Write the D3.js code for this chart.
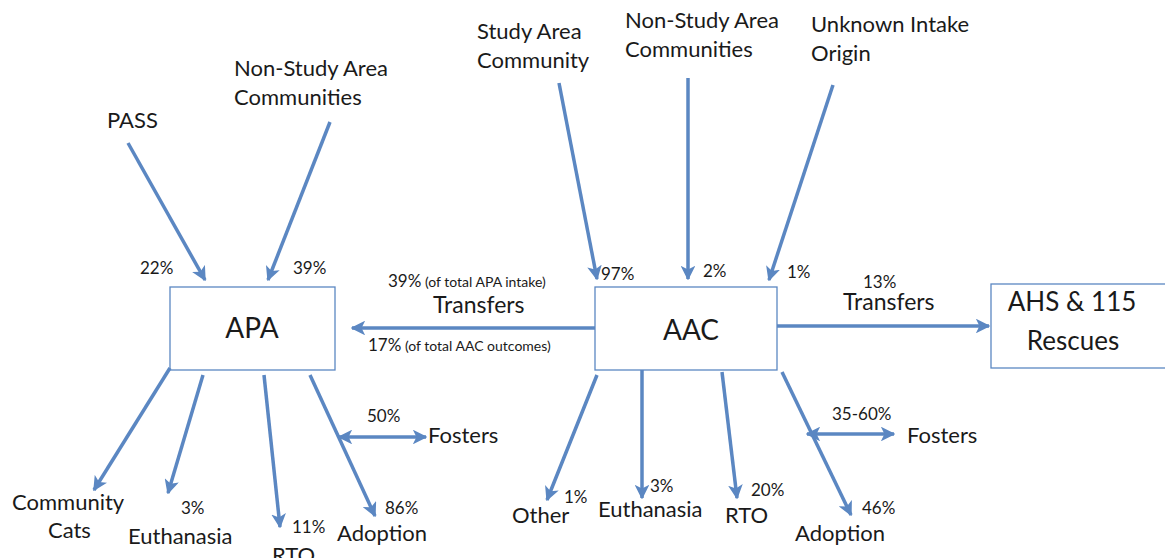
<!DOCTYPE html>
<html>
<head>
<meta charset="utf-8">
<script src="https://cdn.jsdelivr.net/npm/d3@7"></script>
<style>
  body { margin: 0; background: #fff; }
  svg text { font-family: Lato, "Open Sans", sans-serif; fill: #1a1a1a; }
</style>
</head>
<body>
<svg id="chart"></svg>
<script>
// ---- data ----
var boxNames = ["APA", "AAC", "AHS & 115\nRescues"]

var intakeNames = ["PASS", "Non-Study Area\nCommunities", "Study Area\nCommunity", "Non-Study Area\nCommunities", "Unknown Intake\nOrigin"]
var intakeTarget = ["APA", "APA", "AAC", "AAC", "AAC"]
var intakePct = ["22%", "39%", "97%", "2%", "1%"]

var outcomeNames = ["Community\nCats", "Euthanasia", "RTO", "Adoption", "Other", "Euthanasia", "RTO", "Adoption"]
var outcomeSource = ["APA", "APA", "APA", "APA", "AAC", "AAC", "AAC", "AAC"]
var outcomePct = ["", "3%", "11%", "86%", "1%", "3%", "20%", "46%"]

var fosterSource = ["APA", "AAC"]
var fosterPct = ["50%", "35-60%"]

var transferFrom = ["AAC", "AAC"]
var transferTo = ["APA", "AHS & 115\nRescues"]
var transferPctTop = ["39% (of total APA intake)", "13%"]
var transferPctBottom = ["17% (of total AAC outcomes)", ""]

// ---- layout (pixel positions of the drawing) ----
var width = 1165, height = 558
var blue = "#5b87c2"
var nameSize = 22, pctSize = 17, noteSize = 14

var boxLayout = [
  {x: 170, y: 287, w: 165, h: 83, fs: 28, lx: [252], ly: [338]},
  {x: 595, y: 287, w: 182, h: 83, fs: 28, lx: [691], ly: [340]},
  {x: 991, y: 284, w: 180, h: 84, fs: 26, lx: [1072, 1073], ly: [311, 350]}
]

var intakeLayout = [
  {x1: 128, y1: 143, x2: 205, y2: 280, tx: 107, ty: 128, px: 140, py: 274},
  {x1: 330, y1: 122, x2: 268, y2: 280, tx: 234, ty: 76, px: 293, py: 274},
  {x1: 559, y1: 83, x2: 597, y2: 279, tx: 477, ty: 39, px: 601, py: 280},
  {x1: 688, y1: 78, x2: 688, y2: 279, tx: 625, ty: 28, px: 703, py: 277},
  {x1: 833, y1: 85, x2: 769, y2: 280, tx: 811, ty: 32, px: 787, py: 278}
]

var outcomeLayout = [
  {x1: 170, y1: 368, x2: 94, y2: 490, tx: 12, ty: 510, px: 0, py: 0},
  {x1: 203, y1: 375, x2: 168, y2: 493, tx: 128, ty: 544, px: 181, py: 514},
  {x1: 264, y1: 375, x2: 280, y2: 527, tx: 272, ty: 563, px: 292, py: 533},
  {x1: 310, y1: 375, x2: 375, y2: 516, tx: 337, ty: 541, px: 385, py: 514},
  {x1: 597, y1: 375, x2: 547, y2: 500, tx: 512, ty: 523, px: 564, py: 503},
  {x1: 642, y1: 370, x2: 642, y2: 498, tx: 598, ty: 517, px: 650, py: 492},
  {x1: 722, y1: 372, x2: 737, y2: 498, tx: 725, ty: 523, px: 751, py: 496},
  {x1: 782, y1: 372, x2: 851, y2: 515, tx: 795, ty: 541, px: 862, py: 514}
]

var fosterLayout = [
  {x1: 339, x2: 426, y: 437, tx: 428, ty: 443, px: 367, py: 422},
  {x1: 807, x2: 894, y: 434, tx: 907, ty: 443, px: 832, py: 420}
]

var transferLayout = [
  {x1: 595, y: 328, x2: 352, ttx: 388, tty: 287, lx: 433, ly: 313, btx: 368, bty: 351},
  {x1: 777, y: 326, x2: 989, ttx: 863, tty: 288, lx: 843, ly: 310, btx: 0, bty: 0}
]

var svg = d3.select("#chart").attr("width", width).attr("height", height)

svg.append("defs").append("marker")
  .attr("id", "head")
  .attr("viewBox", "0 0 10 10")
  .attr("refX", 9).attr("refY", 5)
  .attr("markerWidth", 4.2).attr("markerHeight", 4.2)
  .attr("orient", "auto-start-reverse")
  .append("path")
  .attr("d", "M0,0 L10,5 L0,10 L2.5,5 Z")
  .attr("fill", blue)

var drawArrow = function(x1, y1, x2, y2, both){
  var l = svg.append("line")
    .attr("x1", x1).attr("y1", y1).attr("x2", x2).attr("y2", y2)
    .attr("stroke", blue).attr("stroke-width", 3.5)
    .attr("marker-end", "url(#head)")
  if (both) l.attr("marker-start", "url(#head)")
}

// write a (possibly two-line) label, one line per tspan
var multiText = function(txt, xs, y, size, lineH, anchor){
  var t = svg.append("text").attr("y", y)
    .attr("font-size", size).attr("text-anchor", anchor || "start")
  txt.split("\n").forEach(function(line, i){
    t.append("tspan").attr("x", xs[Math.min(i, xs.length - 1)])
      .attr("dy", i == 0 ? 0 : lineH).text(line)
  })
  return t
}

// percentage followed by a smaller note in brackets
var pctText = function(txt, x, y){
  var parts = txt.match(/^(\S+)(.*)$/)
  var t = svg.append("text").attr("x", x).attr("y", y).attr("font-size", pctSize)
  t.append("tspan").text(parts[1])
  if (parts[2]) t.append("tspan").attr("font-size", noteSize).text(parts[2])
}

// boxes
boxNames.forEach(function(name, i){
  var b = boxLayout[i]
  svg.append("rect").attr("x", b.x).attr("y", b.y).attr("width", b.w).attr("height", b.h)
    .attr("fill", "#fff").attr("stroke", blue).attr("stroke-width", 1.3)
  name.split("\n").forEach(function(line, j){
    svg.append("text")
      .attr("x", b.lx[j]).attr("y", b.ly[j])
      .attr("font-size", b.fs)
      .attr("text-anchor", "middle")
      .text(line)
  })
})

// intake arrows
intakeNames.forEach(function(name, i){
  var a = intakeLayout[i]
  drawArrow(a.x1, a.y1, a.x2, a.y2)
  multiText(name, [a.tx], a.ty, nameSize, 29)
  pctText(intakePct[i], a.px, a.py)
})

// outcome arrows
outcomeNames.forEach(function(name, i){
  var a = outcomeLayout[i]
  drawArrow(a.x1, a.y1, a.x2, a.y2)
  if (i == 0) {
    multiText(name, [a.tx, 48], a.ty, nameSize, 28)
  } else {
    multiText(name, [a.tx], a.ty, nameSize, 28)
  }
  if (outcomePct[i]) pctText(outcomePct[i], a.px, a.py)
})

// fosters
fosterSource.forEach(function(src, i){
  var f = fosterLayout[i]
  drawArrow(f.x1, f.y, f.x2, f.y, true)
  multiText("Fosters", [f.tx], f.ty, nameSize, 28)
  pctText(fosterPct[i], f.px, f.py)
})

// transfers
transferFrom.forEach(function(src, i){
  var t = transferLayout[i]
  drawArrow(t.x1, t.y, t.x2, t.y)
  multiText("Transfers", [t.lx], t.ly, 23, 28)
  pctText(transferPctTop[i], t.ttx, t.tty)
  if (transferPctBottom[i]) pctText(transferPctBottom[i], t.btx, t.bty)
})
</script>
</body>
</html>
